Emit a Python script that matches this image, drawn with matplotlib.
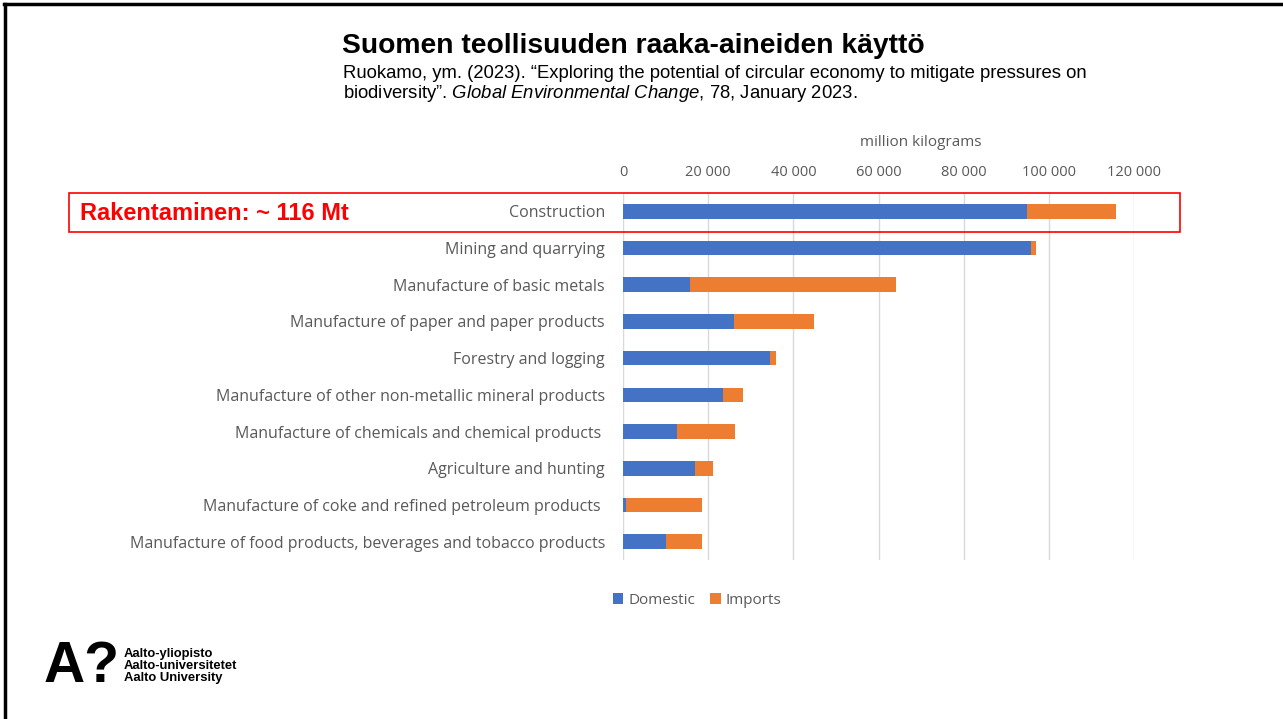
import matplotlib
matplotlib.use("Agg")
from matplotlib import pyplot as plt
from matplotlib.patches import Rectangle
from matplotlib.lines import Line2D

# Data (million kilograms)
categories = [
    "Construction",
    "Mining and quarrying",
    "Manufacture of basic metals",
    "Manufacture of paper and paper products",
    "Forestry and logging",
    "Manufacture of other non-metallic mineral products",
    "Manufacture of chemicals and chemical products ",
    "Agriculture and hunting",
    "Manufacture of coke and refined petroleum products ",
    "Manufacture of food products, beverages and tobacco products",
]
domestic = [94800, 95700, 15700, 26100, 34600, 23400, 12600, 16800, 600, 10200]
imports = [20900, 1400, 48300, 18700, 1300, 4800, 13700, 4300, 17900, 8300]
xticks = [0, 20000, 40000, 60000, 80000, 100000, 120000]

blue = '#4472C4'
orange = '#ED7D31'
grey_txt = '#595959'

plt.rcParams['mathtext.fontset'] = 'custom'
plt.rcParams['mathtext.rm'] = 'Liberation Sans'
plt.rcParams['mathtext.it'] = 'Liberation Sans:italic'

fig = plt.figure(figsize=(12.83, 7.19), dpi=100)
W, H = 1283, 719


def fx(px):
    return px / W


def fy(py):
    return 1 - py / H


# Frame of the slide
fig.add_artist(Line2D([fx(5), fx(5)], [0, fy(4)], color='black', lw=2.5))
fig.add_artist(Line2D([fx(4), 1], [fy(4), fy(4)], color='black', lw=2.5))

# Titles
fig.text(fx(342), fy(46), 'Suomen teollisuuden raaka-aineiden käyttö',
         fontsize=20.3, fontweight='bold', family='Liberation Sans', va='center')
fig.text(fx(343), fy(74), 'Ruokamo, ym. (2023). \u201cExploring the potential of circular economy to mitigate pressures on',
         fontsize=13.3, family='Liberation Sans', va='center')
fig.text(fx(343), fy(94), 'biodiversity\u201d. $\\it{Global\\ Environmental\\ Change}$, 78, January 2023.',
         fontsize=13.3, family='Liberation Sans', va='center')

# Chart
ax = fig.add_axes([fx(623), fy(560), fx(1134) - fx(623), fy(193) - fy(560)])
y = list(range(len(categories)))
ax.barh(y, domestic, height=0.4, color=blue, label='Domestic', zorder=3)
ax.barh(y, imports, left=domestic, height=0.4, color=orange, label='Imports', zorder=3)
ax.set_ylim(len(categories) - 0.5, -0.5)
ax.set_xlim(0, 120000)
ax.set_yticks(y)
ax.set_yticklabels(categories, family='Open Sans', fontsize=11.5, color=grey_txt)
ax.set_xticks(xticks)
ax.set_xticklabels([f'{v:,}'.replace(',', ' ') for v in xticks],
                   family='Open Sans', fontsize=10.5, color=grey_txt)
ax.xaxis.tick_top()
ax.tick_params(axis='x', length=0, pad=9.5)
ax.tick_params(axis='y', length=0, pad=13)
ax.grid(axis='x', color='#D9D9D9', lw=1, zorder=0)
for s in ax.spines.values():
    s.set_visible(False)
fig.text(fx(921), fy(143), 'million kilograms', family='Open Sans', fontsize=11,
         color=grey_txt, ha='center', va='center')

# Legend
leg = fig.legend(*ax.get_legend_handles_labels(), loc='center', bbox_to_anchor=(fx(697), fy(600)),
                 ncol=2, frameon=False, handlelength=0.7, handleheight=0.7, handletextpad=0.3,
                 columnspacing=1.0, prop={'family': 'Open Sans', 'size': 11})
for t in leg.get_texts():
    t.set_color(grey_txt)

# Highlight box for construction
fig.add_artist(Rectangle((fx(69), fy(232)), fx(1180) - fx(69), fy(193) - fy(232),
                         fill=False, edgecolor='red', lw=1.2))
fig.text(fx(80), fy(213), 'Rakentaminen: ~ 116 Mt', color='red', fontsize=17,
         fontweight='bold', family='Liberation Sans', va='center')

# Logo
fig.text(fx(44), fy(667), 'A?', fontsize=41, fontweight='bold', family='Liberation Sans',
         va='center')
fig.text(fx(124), fy(666), 'Aalto-yliopisto\nAalto-universitetet\nAalto University',
         fontsize=9.4, fontweight='bold', family='Liberation Sans', va='center', linespacing=0.95)

fig.savefig('out.png', dpi=100)
